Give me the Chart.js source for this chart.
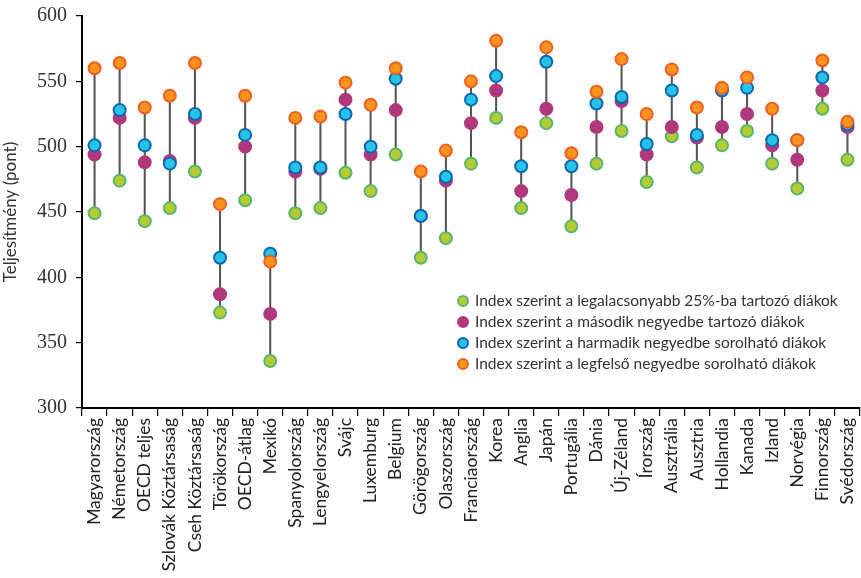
<!DOCTYPE html>
<html>
<head>
<meta charset="utf-8">
<script src="https://cdn.jsdelivr.net/npm/chart.js@4"></script>
<style>
  html, body { margin: 0; padding: 0; background: #fff; }
  #wrap { position: relative; width: 861px; height: 578px; }
  #legend { position: absolute; left: 457px; top: 290px; font-family: Lato, sans-serif; font-size: 15.5px; color: #333; }
  #legend div { height: 21px; line-height: 21px; white-space: nowrap; }
  #legend span.dot { display: inline-block; width: 8px; height: 8px; border-radius: 50%; border: 2px solid; margin-right: 6px; vertical-align: -1px; }
</style>
</head>
<body>
<div id="wrap">
  <canvas id="chart" width="861" height="578"></canvas>
  <div id="legend"></div>
</div>
<script>
const countries = ['Magyarország', 'Németország', 'OECD teljes', 'Szlovák Köztársaság', 'Cseh Köztársaság',
  'Törökország', 'OECD-átlag', 'Mexikó', 'Spanyolország', 'Lengyelország', 'Svájc', 'Luxemburg', 'Belgium',
  'Görögország', 'Olaszország', 'Franciaország', 'Korea', 'Anglia', 'Japán', 'Portugália', 'Dánia',
  'Új-Zéland', 'Írország', 'Ausztrália', 'Ausztria', 'Hollandia', 'Kanada', 'Izland', 'Norvégia',
  'Finnország', 'Svédország'];

// lowest quarter
const q1 = [449, 474, 443, 453, 481, 373, 459, 336, 449, 453, 480, 466, 494, 415, 430, 487,
  522, 453, 518, 439, 487, 512, 473, 508, 484, 501, 512, 487, 468, 529, 490];
// second quarter
const q2 = [494, 522, 488, 489, 522, 387, 500, 372, 481, 483, 536, 494, 528, 447, 474, 518,
  543, 466, 529, 463, 515, 535, 494, 515, 507, 515, 525, 501, 490, 543, 515];
// third quarter
const q3 = [501, 528, 501, 487, 525, 415, 509, 418, 484, 484, 525, 500, 552, 447, 477, 536,
  554, 485, 565, 485, 533, 538, 502, 543, 509, 543, 545, 505, 505, 553, 517];
// top quarter
const q4 = [560, 564, 530, 539, 564, 456, 539, 412, 522, 523, 549, 532, 560, 481, 497, 550,
  581, 511, 576, 495, 542, 567, 525, 559, 530, 545, 553, 529, 505, 566, 519];

const yTicks = [300, 350, 400, 450, 500, 550, 600];

const seriesNames = [
  'Index szerint a legalacsonyabb 25%-ba tartozó diákok',
  'Index szerint a második negyedbe tartozó diákok',
  'Index szerint a harmadik negyedbe sorolható diákok',
  'Index szerint a legfelső negyedbe sorolható diákok'
];
const fills = ['#b4cc34', '#b1387c', '#26c3e6', '#f7931e'];
const borders = ['#5cb56c', '#b1387c', '#0a68b3', '#f2601f'];

const ranges = countries.map((c, i) => {
  const v = [q1[i], q2[i], q3[i], q4[i]];
  return [Math.min(...v), Math.max(...v)];
});

const series = [q1, q2, q3, q4];
const datasets = series.map((d, k) => ({
  type: 'line',
  label: seriesNames[k],
  data: d,
  showLine: false,
  pointRadius: 6,
  pointHoverRadius: 6,
  pointBorderWidth: 2,
  pointBackgroundColor: fills[k],
  pointBorderColor: borders[k],
  order: 3 - k
}));
datasets.push({
  type: 'bar',
  label: 'range',
  data: ranges,
  backgroundColor: '#555',
  barThickness: 1.4,
  order: 10
});

new Chart(document.getElementById('chart'), {
  data: { labels: countries, datasets: datasets },
  options: {
    responsive: false,
    animation: false,
    layout: { autoPadding: false, padding: { top: 16, right: 1, left: 0, bottom: 0 } },
    plugins: { legend: { display: false }, tooltip: { enabled: false } },
    scales: {
      x: {
        offset: true,
        grid: { offset: true, drawOnChartArea: false, tickLength: 8, color: '#000', lineWidth: 1.2 },
        border: { color: '#000', width: 2 },
        ticks: {
          autoSkip: false, maxRotation: 90, minRotation: 90, padding: 2,
          color: '#222', font: { family: 'Lato, sans-serif', size: 17.5 }
        },
        afterFit: s => { s.height = 170; s.paddingRight = 0; s.paddingLeft = 0; }
      },
      y: {
        min: 300, max: 600,
        afterBuildTicks: s => { s.ticks = yTicks.map(v => ({ value: v })); },
        grid: { drawOnChartArea: false, tickLength: 6, color: '#000', lineWidth: 1.2 },
        border: { color: '#000', width: 2 },
        ticks: { color: '#333', padding: 9, font: { family: '"Liberation Serif", serif', size: 20 } },
        title: { display: true, text: 'Teljesítmény (pont)', color: '#333', padding: { top: 0, bottom: 6 },
          font: { family: 'Lato, sans-serif', size: 17 } },
        afterFit: s => { s.width = 82; s.paddingTop = 0; s.paddingBottom = 0; }
      }
    }
  }
});

const legend = document.getElementById('legend');
seriesNames.forEach((n, k) => {
  const row = document.createElement('div');
  const dot = document.createElement('span');
  dot.className = 'dot';
  dot.style.background = fills[k];
  dot.style.borderColor = borders[k];
  row.appendChild(dot);
  row.appendChild(document.createTextNode(n));
  legend.appendChild(row);
});
</script>
</body>
</html>
